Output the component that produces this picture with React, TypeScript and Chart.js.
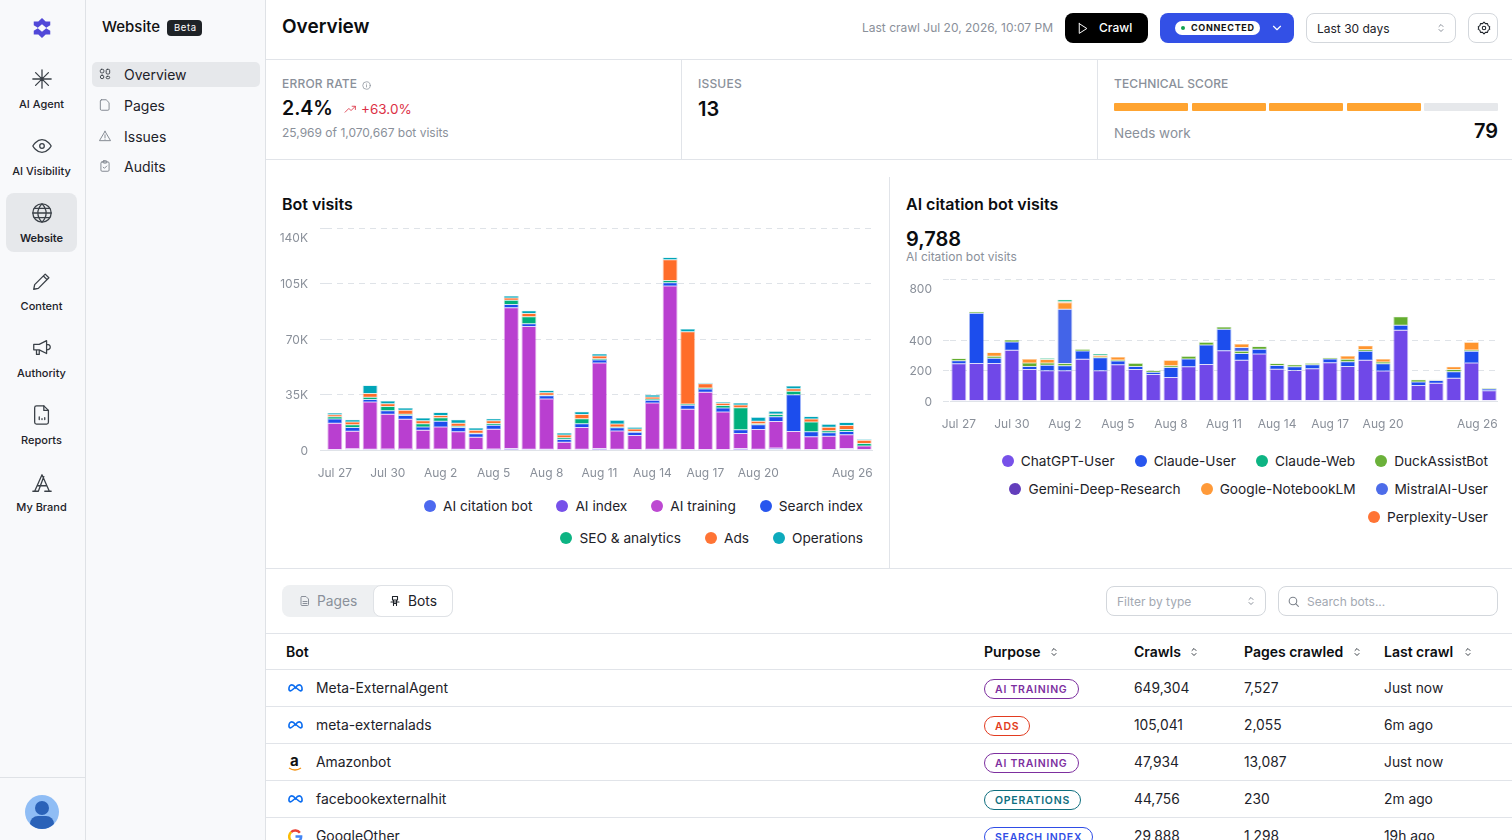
import { useEffect, useRef } from 'react';
import type { CSSProperties, ReactNode } from 'react';
import { Chart, registerables } from 'chart.js';

Chart.register(...registerables);
Chart.defaults.font.family = 'Inter';

const pad = '\u00a0\u00a0\u00a0\u00a0\u00a0\u00a0\u00a0';
const xTickLabels = ['Jul 27', '', '', 'Jul 30', '', '', 'Aug 2', '', '', 'Aug 5', '', '', 'Aug 8', '', '', 'Aug 11', '', '', 'Aug 14', '', '', 'Aug 17', '', '', 'Aug 20', '', '', '', '', '', 'Aug 26' + pad];
const days = xTickLabels.map((_, i) => 'd' + i);

// Bot visits
const visitTicks = [0, 35000, 70000, 105000, 140000];
const aiCitation = [100, 300, 100, 100, 100, 100, 400, 100, 100, 100, 100, 100, 100, 100, 200, 100, 100, 100, 100, 100, 100, 100, 100, 100, 100, 700, 100, 100, 100, 300, 100];
const aiIndex = [200, 500, 300, 600, 600, 300, 200, 300, 200, 600, 800, 300, 300, 200, 300, 800, 300, 200, 300, 300, 200, 200, 200, 800, 300, 500, 300, 200, 200, 700, 200];
const aiTraining = [16600, 11100, 29800, 21800, 18700, 12000, 13900, 11100, 7800, 12400, 88800, 77500, 31700, 4600, 13700, 54000, 11600, 8800, 29200, 103100, 25400, 36100, 23700, 9500, 12600, 16800, 11300, 8000, 8400, 8600, 2300];
const searchIndex = [2700, 2300, 1700, 2300, 2300, 2100, 3600, 2700, 2100, 2500, 2100, 1700, 2100, 1700, 2300, 1900, 2100, 2100, 1700, 1900, 2500, 2100, 2500, 2300, 2900, 2900, 23100, 3200, 2100, 2100, 0];
const seoAnalytics = [1300, 1700, 1300, 2700, 800, 2100, 2300, 800, 400, 1100, 2700, 4400, 400, 1100, 3200, 800, 400, 400, 800, 1500, 800, 600, 1500, 13900, 600, 1500, 2300, 6100, 1300, 1300, 1500];
const ads = [1300, 1700, 2500, 1700, 2500, 1900, 1300, 1900, 1900, 1700, 1300, 2100, 1500, 1700, 2700, 1700, 1900, 1700, 1300, 13000, 45600, 2700, 1500, 1700, 1700, 300, 1500, 1900, 2300, 2500, 2100];
const operations = [1100, 1500, 5000, 1700, 1500, 1700, 1900, 2100, 1300, 1300, 1300, 1700, 1500, 1300, 1700, 1300, 2300, 1100, 1300, 1500, 1700, 600, 800, 1300, 2500, 1700, 1700, 1700, 1900, 1900, 600];

// AI citation bot visits
const citationTicks = [0, 200, 400, 800];
const chatgptUser = [244, 246, 246, 332, 207, 198, 198, 273, 198, 238, 207, 174, 154, 224, 240, 330, 268, 308, 209, 200, 211, 251, 227, 268, 196, 464, 101, 117, 150, 249, 68];
const claudeUser = [20, 330, 35, 55, 20, 37, 33, 55, 86, 24, 20, 15, 66, 51, 128, 141, 44, 31, 24, 24, 26, 24, 31, 59, 48, 33, 24, 18, 42, 77, 11];
const duckAssist = [15, 9, 13, 13, 22, 15, 15, 11, 4, 7, 20, 11, 11, 18, 18, 15, 15, 18, 13, 13, 11, 9, 15, 11, 11, 55, 15, 4, 15, 9, 4];
const mistralUser = [0, 0, 0, 0, 0, 0, 356, 0, 0, 0, 0, 0, 0, 0, 0, 0, 24, 0, 0, 0, 0, 0, 0, 0, 0, 0, 0, 0, 0, 0, 0];
const notebookLm = [0, 0, 24, 0, 26, 22, 42, 0, 11, 20, 0, 0, 37, 0, 0, 0, 22, 0, 0, 0, 0, 0, 22, 24, 20, 0, 0, 0, 18, 51, 0];
const perplexityUser = [0, 0, 0, 0, 0, 0, 7, 0, 0, 0, 0, 0, 0, 0, 0, 0, 0, 0, 0, 0, 0, 0, 0, 0, 0, 0, 0, 0, 0, 0, 0];
const claudeWeb = [0, 0, 0, 0, 0, 8, 13, 0, 9, 0, 0, 0, 0, 0, 0, 0, 0, 0, 0, 0, 0, 0, 0, 0, 0, 0, 0, 0, 0, 0, 0];

const visitSeries = [
  { label: 'AI citation bot', data: aiCitation, color: '#4361ee' },
  { label: 'AI index', data: aiIndex, color: '#7048e8' },
  { label: 'AI training', data: aiTraining, color: '#b93fd0' },
  { label: 'Search index', data: searchIndex, color: '#1c4ded' },
  { label: 'SEO & analytics', data: seoAnalytics, color: '#00b07c' },
  { label: 'Ads', data: ads, color: '#ff6d2a' },
  { label: 'Operations', data: operations, color: '#00a5b8' },
];
const citationSeries = [
  { label: 'ChatGPT-User', data: chatgptUser, color: '#7048e8' },
  { label: 'Claude-User', data: claudeUser, color: '#1c4ded' },
  { label: 'DuckAssistBot', data: duckAssist, color: '#63ad2f' },
  { label: 'MistralAI-User', data: mistralUser, color: '#4364e8' },
  { label: 'Google-NotebookLM', data: notebookLm, color: '#ff952e' },
  { label: 'Perplexity-User', data: perplexityUser, color: '#ff6d2a' },
  { label: 'Claude-Web', data: claudeWeb, color: '#00b07c' },
];

const visitLegend = [
  [['AI citation bot', '#4361ee'], ['AI index', '#7048e8'], ['AI training', '#b93fd0'], ['Search index', '#1c4ded']],
  [['SEO & analytics', '#00b07c'], ['Ads', '#ff6d2a'], ['Operations', '#00a5b8']],
];
const citationLegend = [
  [['ChatGPT-User', '#7048e8'], ['Claude-User', '#1c4ded'], ['Claude-Web', '#00b07c'], ['DuckAssistBot', '#63ad2f']],
  [['Gemini-Deep-Research', '#5b34b8'], ['Google-NotebookLM', '#ff952e'], ['MistralAI-User', '#4364e8']],
  [['Perplexity-User', '#ff6d2a']],
];

const bots = ['Meta-ExternalAgent', 'meta-externalads', 'Amazonbot', 'facebookexternalhit', 'GoogleOther'];
const botLogos = ['meta', 'meta', 'amazon', 'meta', 'google'];
const purposes = ['AI TRAINING', 'ADS', 'AI TRAINING', 'OPERATIONS', 'SEARCH INDEX'];
const crawls = ['649,304', '105,041', '47,934', '44,756', '29,888'];
const pagesCrawled = ['7,527', '2,055', '13,087', '230', '1,298'];
const lastCrawl = ['Just now', '6m ago', 'Just now', '2m ago', '19h ago'];
const purposeColors: Record<string, string> = { 'AI TRAINING': '#7d2f9f', ADS: '#e23b20', OPERATIONS: '#0f6f7f', 'SEARCH INDEX': '#2f4de6' };

const GRID = '#dfe3e8';
const MUTED = '#8a909a';
const LINE = '#e1e4e9';

function hexA(hex: string, a: number) {
  const n = parseInt(hex.slice(1), 16);
  return `rgba(${n >> 16},${(n >> 8) & 255},${n & 255},${a})`;
}

interface BarChartProps {
  series: { label: string; data: number[]; color: string }[];
  yTicks: number[];
  topLabel: string;
  format: (v: number) => string;
  box: { left: number; top: number; width: number; height: number };
  plot: { left: number; top: number; bottom: number };
  tickLen: number;
  labelGap: number;
}

function BarChart({ series, yTicks, topLabel, format, box, plot, tickLen, labelGap }: BarChartProps) {
  const canvasRef = useRef<HTMLCanvasElement>(null);

  useEffect(() => {
    if (!canvasRef.current) return;
    const max = yTicks[yTicks.length - 1];
    const chart = new Chart(canvasRef.current, {
      type: 'bar',
      data: {
        labels: days,
        datasets: series.map((s) => ({
          label: s.label,
          data: s.data,
          backgroundColor: s.color,
          borderColor: hexA(s.color, 0.4),
          borderWidth: { left: 1, right: 1, top: 0.5, bottom: 0.5 },
          borderSkipped: false,
          inflateAmount: 0,
          categoryPercentage: 1,
          barPercentage: 0.85,
        })),
      },
      options: {
        responsive: false,
        animation: false,
        layout: { padding: { top: plot.top, right: 0, bottom: 0, left: 0 } },
        plugins: { legend: { display: false }, tooltip: { enabled: false } },
        scales: {
          x: {
            stacked: true,
            grid: { display: false },
            border: { display: false },
            afterFit: (axis) => {
              axis.height = box.height - plot.bottom;
              axis.paddingLeft = 0;
              axis.paddingRight = 0;
            },
            ticks: {
              autoSkip: false,
              minRotation: 0,
              maxRotation: 0,
              padding: 8,
              color: MUTED,
              font: { size: 12 },
              callback: (_, i) => xTickLabels[i],
            },
          },
          y: {
            stacked: true,
            min: 0,
            max,
            afterBuildTicks: (axis) => {
              axis.ticks = yTicks.map((value) => ({ value }));
            },
            afterFit: (axis) => {
              axis.width = plot.left;
              axis.paddingTop = 0;
              axis.paddingBottom = 0;
            },
            border: {
              display: false,
              dash: (ctx) => (ctx.tick && ctx.tick.value === 0 ? [] : [6, 5]),
            },
            grid: {
              color: GRID,
              tickColor: GRID,
              tickLength: tickLen,
              tickBorderDash: [6, 5],
            },
            ticks: {
              autoSkip: false,
              padding: labelGap,
              labelOffset: 1,
              color: MUTED,
              font: { size: 12, lineHeight: 1.6 },
              // the top label sits under its line, so it gets an empty line above
              callback: (v) => (v === max ? ['', topLabel] : format(Number(v))),
            },
          },
        },
      },
    });
    return () => chart.destroy();
  }, [series, yTicks, topLabel, format, box, plot, tickLen, labelGap]);

  return <canvas ref={canvasRef} width={box.width} height={box.height} style={{ position: 'absolute', left: box.left, top: box.top, width: box.width, height: box.height }} />;
}

const fmtK = (v: number) => (v === 0 ? '0' : `${v / 1000}K`);
const fmtPlain = (v: number) => String(v);
const visitBox = { left: 272, top: 216, width: 601, height: 270 };
const visitPlot = { left: 54, top: 12, bottom: 234 };
const citationBox = { left: 896, top: 268, width: 602, height: 172 };
const citationPlot = { left: 54, top: 11, bottom: 133 };

function Txt({ x, y, right, size = 14, weight = 400, color = '#1d2229', spacing, children }: { x?: number; y: number; right?: number; size?: number; weight?: number; color?: string; spacing?: number; children: ReactNode }) {
  const style: CSSProperties = { position: 'absolute', top: y, transform: 'translateY(-50%)', fontSize: size, fontWeight: weight, color, whiteSpace: 'nowrap', letterSpacing: spacing, lineHeight: 1.2 };
  if (x !== undefined) style.left = x;
  if (right !== undefined) style.right = 1512 - right;
  return <div style={style}>{children}</div>;
}

function Box({ x, y, w, h, bg, border, radius }: { x: number; y: number; w: number; h: number; bg?: string; border?: string; radius?: number }) {
  return <div style={{ position: 'absolute', left: x, top: y, width: w, height: h, background: bg, border, borderRadius: radius, boxSizing: 'border-box' }} />;
}

function Icon({ x, y, size = 24, color = '#3a4047', sw = 1.5, children }: { x: number; y: number; size?: number; color?: string; sw?: number; children: ReactNode }) {
  return (
    <svg viewBox="0 0 24 24" width={size} height={size} fill="none" stroke={color} strokeWidth={sw} strokeLinecap="round" strokeLinejoin="round" style={{ position: 'absolute', left: x - size / 2, top: y - size / 2 }}>
      {children}
    </svg>
  );
}

function Legend({ rows, right, ys, gap }: { rows: string[][][]; right: number; ys: number[]; gap: number }) {
  return (
    <>
      {rows.map((row, r) => (
        <div key={r} style={{ position: 'absolute', right: 1512 - right, top: ys[r], transform: 'translateY(-50%)', display: 'flex', gap, whiteSpace: 'nowrap' }}>
          {row.map(([name, color]) => (
            <div key={name} style={{ display: 'flex', alignItems: 'center', gap: 7, fontSize: 13.7, color: '#1d2229' }}>
              <span style={{ width: 12, height: 12, borderRadius: 6, background: color, display: 'inline-block', opacity: 0.95 }} />
              {name}
            </div>
          ))}
        </div>
      ))}
    </>
  );
}

function Chevrons({ x, y, color = '#6b7280' }: { x: number; y: number; color?: string }) {
  return (
    <Icon x={x} y={y} size={12} color={color} sw={2}>
      <path d="M8 9l4-4 4 4M8 15l4 4 4-4" />
    </Icon>
  );
}

function BotLogo({ kind, y }: { kind: string; y: number }) {
  if (kind === 'amazon')
    return (
      <>
        <Txt x={290} y={y - 1} size={15} weight={700} color="#111">a</Txt>
        <svg width="14" height="5" style={{ position: 'absolute', left: 288, top: y + 5 }}>
          <path d="M1 1q6 4 12 0" fill="none" stroke="#f29111" strokeWidth="1.3" />
        </svg>
      </>
    );
  if (kind === 'google')
    return (
      <svg viewBox="0 0 24 24" width="15" height="15" fill="none" strokeWidth="4" style={{ position: 'absolute', left: 288, top: y - 7 }}>
        <path d="M19 6a9.5 9.5 0 0 0-14-1" stroke="#ea4335" />
        <path d="M5 5a9.5 9.5 0 0 0 0 14" stroke="#fbbc05" />
        <path d="M5 19a9.5 9.5 0 0 0 13 0" stroke="#34a853" />
        <path d="M18 19a9 9 0 0 0 3-7h-9" stroke="#4285f4" />
      </svg>
    );
  return (
    <svg viewBox="0 0 24 13" width="15" height="10" fill="none" stroke="#0a6cf0" strokeWidth="2.6" style={{ position: 'absolute', left: 288, top: y - 5 }}>
      <path d="M12 6C10 3 8 1.500 6 1.500 3 1.500 1.500 5 1.500 8c0 2 1 3 2.500 3C7 11 9 6 12 6s5 5 8 5c1.500 0 2.500-1 2.500-3 0-3-1.500-6.500-4.500-6.500-2 0-4 1.500-6 4.500z" />
    </svg>
  );
}

const railItems = ['AI Agent', 'AI Visibility', 'Website', 'Content', 'Authority', 'Reports', 'My Brand'];
const railY = [79, 146, 213, 281, 348, 415, 483];
const railGlyphs = [
  <path d="M12 2v20M2 12h20M5 5l14 14M19 5L5 19" />,
  <><path d="M2 12s4-7 10-7 10 7 10 7-4 7-10 7-10-7-10-7z" /><circle cx="12" cy="12" r="2.500" /></>,
  <><circle cx="12" cy="12" r="10" /><path d="M2 12h20M3.500 7h17M3.500 17h17M12 2c-6 6-6 14 0 20M12 2c6 6 6 14 0 20" /></>,
  <path d="M15.500 4.500l4 4L8 20l-5 1 1-5L15.500 4.500zM13.500 6.500l4 4" />,
  <path d="M3 8h6l8-4v14l-8-4H3V8zM6 14v5h3v-5M17 8c2 0 4 1 4 3s-2 3-4 3" />,
  <><path d="M6 2h8l5 5v13a2 2 0 0 1-2 2H6a2 2 0 0 1-2-2V4a2 2 0 0 1 2-2z" /><path d="M14 2v5h5M9 17v-3M12 17v-1M15 17v-2" /></>,
  <path d="M2 21h6M15 21h7M4 21L12 3l8 18M8 21l6-16M7 15h10" />,
];

const navItems = ['Overview', 'Pages', 'Issues', 'Audits'];
const navY = [75, 106, 137, 167];
const navGlyphs = [
  <><rect x="4" y="4" width="6" height="6" rx="2" /><rect x="14" y="4" width="6" height="8" rx="2" /><rect x="4" y="14" width="6" height="6" rx="3" /><rect x="14" y="16" width="6" height="4" rx="2" /></>,
  <path d="M6 3h8l5 5v11a2 2 0 0 1-2 2H6a2 2 0 0 1-2-2V5a2 2 0 0 1 2-2z" />,
  <path d="M12 4L2.500 20h19L12 4zM12 10v5M12 17.500v.100" />,
  <><rect x="5" y="5" width="14" height="16" rx="2" /><rect x="9" y="3" width="6" height="4" rx="1" /><path d="M9 14l2 2 4-4" /></>,
];

const scoreSegments = [1114, 1192, 1269, 1347, 1424];

export default function App() {
  return (
    <div style={{ position: 'relative', width: 1512, height: 840, overflow: 'hidden', background: '#fff', fontFamily: 'Inter, sans-serif' }}>
      <style>{'html,body{margin:0;padding:0;overflow:hidden}'}</style>

      {/* sidebars */}
      <Box x={0} y={0} w={265} h={840} bg="#f8f9fb" />
      <Box x={85} y={0} w={1} h={840} bg="#dfe2e6" />
      <Box x={265} y={0} w={1} h={840} bg="#dfe2e6" />
      <Box x={0} y={777} w={85} h={1} bg="#dfe2e6" />
      <svg viewBox="0 0 24 24" width="22" height="24" style={{ position: 'absolute', left: 31, top: 16 }}>
        <path d="M12 1l4 4h5v4l-5 3 5 3v4h-5l-4 4-4-4H3v-4l5-3-5-3V5h5l4-4zM12 8l-5 4 5 4 5-4-5-4z" fill="#5148d8" fillRule="evenodd" />
      </svg>
      <Box x={6} y={193} w={71} h={59} bg="#e6e8eb" radius={8} />
      {railItems.map((name, i) => (
        <div key={name}>
          <Icon x={41.5} y={railY[i]} size={22} sw={1.4}>{railGlyphs[i]}</Icon>
          <div style={{ position: 'absolute', left: 0, width: 83, textAlign: 'center', top: railY[i] + 25 - (i === 6 ? 1 : 0), transform: 'translateY(-50%)', fontSize: 11, fontWeight: i === 2 ? 600 : 500, color: '#1d2229' }}>{name}</div>
        </div>
      ))}
      <div style={{ position: 'absolute', left: 25, top: 795, width: 34, height: 34, borderRadius: 17, background: '#8fbdf5', overflow: 'hidden' }}>
        <div style={{ position: 'absolute', left: 10, top: 6, width: 14, height: 14, borderRadius: 7, background: '#2a62b8' }} />
        <div style={{ position: 'absolute', left: 5, top: 21, width: 24, height: 16, borderRadius: 12, background: '#2a62b8' }} />
      </div>

      <Txt x={102} y={27} size={15} weight={500} color="#111">Website</Txt>
      <Box x={167} y={20} w={35} h={16} bg="#1f2327" radius={4} />
      <Txt x={174} y={28} size={9.500} color="#fff" spacing={0.6}>Beta</Txt>
      <Box x={92} y={62} w={168} h={25} bg="#e6e8eb" radius={5} />
      {navItems.map((name, i) => (
        <div key={name}>
          <Icon x={105} y={navY[i] - 1} size={14} color={i === 0 ? '#3a4047' : '#7d838c'} sw={1.6}>{navGlyphs[i]}</Icon>
          <Txt x={124} y={navY[i]} size={14} color="#1d2229">{name}</Txt>
        </div>
      ))}

      {/* top bar */}
      <Txt x={282} y={27} size={19} weight={600} color="#0b0d10">Overview</Txt>
      <Txt right={1053} y={28} size={12} color={MUTED}>Last crawl Jul 20, 2026, 10:07 PM</Txt>
      <Box x={1065} y={13} w={83} h={30} bg="#000" radius={8} />
      <Icon x={1082} y={28} size={13} color="#fff" sw={1.8}><path d="M6 3l14 9-14 9V3z" /></Icon>
      <Txt x={1099} y={28} size={12} weight={500} color="#fff">Crawl</Txt>
      <Box x={1160} y={13} w={134} h={30} bg="#3350e6" radius={8} />
      <Box x={1175} y={21} w={85} h={14} bg="#fff" radius={7} />
      <Box x={1181} y={26} w={4} h={4} bg="#12a150" radius={2} />
      <Txt x={1191} y={28} size={9} weight={700} color="#111" spacing={0.7}>CONNECTED</Txt>
      <Icon x={1277} y={28} size={14} color="#fff" sw={2}><path d="M6 9l6 6 6-6" /></Icon>
      <Box x={1306} y={13} w={150} h={30} bg="#fff" border="1px solid #d3d7dc" radius={8} />
      <Txt x={1317} y={29} size={12} color="#1d2229">Last 30 days</Txt>
      <Chevrons x={1441} y={28} color="#8a909a" />
      <Box x={1468} y={13} w={30} h={30} bg="#fff" border="1px solid #d3d7dc" radius={8} />
      <Icon x={1484} y={28} size={14} color="#1d2229" sw={1.8}>
        <circle cx="12" cy="12" r="3" />
        <path d="M12 2l2.500 2.500h3.500l1 3.500 3 2-1 2 1 2-3 2-1 3.500h-3.500L12 22l-2.500-2.500H6L5 16l-3-2 1-2-1-2 3-2 1-3.500h3.500L12 2z" />
      </Icon>
      <Box x={266} y={59} w={1246} h={1} bg={LINE} />

      {/* kpis */}
      <Box x={266} y={159} w={1246} h={1} bg={LINE} />
      <Box x={681} y={60} w={1} h={99} bg={LINE} />
      <Box x={1097} y={60} w={1} h={99} bg={LINE} />
      <Txt x={282} y={84} size={12} weight={500} color={MUTED} spacing={0.2}>ERROR RATE</Txt>
      <Icon x={366} y={85} size={9} color={MUTED} sw={2}><circle cx="12" cy="12" r="10" /><path d="M12 11v5M12 8v.100" /></Icon>
      <Txt x={282} y={109} size={19.500} weight={600} color="#0b0d10">2.4%</Txt>
      <Icon x={350} y={109} size={13} color="#dc3545" sw={1.600}><path d="M2 17l7-7 4 4 8-8M15 6h6v6" /></Icon>
      <Txt x={361} y={109} size={13.500} color="#dc2f45">+63.0%</Txt>
      <Txt x={282} y={132.500} size={12} color={MUTED}>25,969 of 1,070,667 bot visits</Txt>
      <Txt x={698} y={84} size={12} weight={500} color={MUTED} spacing={0.2}>ISSUES</Txt>
      <Txt x={698} y={109} size={20} weight={600} color="#0b0d10">13</Txt>
      <Txt x={1114} y={84} size={12} weight={500} color={MUTED} spacing={0.1}>TECHNICAL SCORE</Txt>
      {scoreSegments.map((x, i) => (
        <Box key={x} x={x} y={103} w={74} h={8} bg={i < 4 ? '#ffa431' : '#e6e8eb'} radius={1} />
      ))}
      <Txt x={1114} y={133} size={13.500} color={MUTED}>Needs work</Txt>
      <Txt right={1498} y={131} size={20} weight={600} color="#0b0d10">79</Txt>

      {/* charts */}
      <Box x={889} y={177} w={1} h={391} bg={LINE} />
      <Txt x={282} y={205} size={16} weight={600} color="#0b0d10">Bot visits</Txt>
      <BarChart series={visitSeries} yTicks={visitTicks} topLabel="140K" format={fmtK} box={visitBox} plot={visitPlot} tickLen={6} labelGap={12} />
      <Legend rows={visitLegend} right={863} ys={[506, 538]} gap={24} />

      <Txt x={906} y={205} size={16} weight={600} color="#0b0d10">AI citation bot visits</Txt>
      <Txt x={906} y={239} size={20} weight={600} color="#0b0d10">9,788</Txt>
      <Txt x={906} y={257} size={12} color={MUTED}>AI citation bot visits</Txt>
      <BarChart series={citationSeries} yTicks={citationTicks} topLabel="800" format={fmtPlain} box={citationBox} plot={citationPlot} tickLen={7} labelGap={11} />
      <Legend rows={citationLegend} right={1488} ys={[461, 489, 517]} gap={20} />

      <Box x={266} y={568} w={1246} h={1} bg={LINE} />

      {/* table */}
      <Box x={282} y={585} w={171} h={32} bg="#eef0f2" radius={8} />
      <Box x={373} y={585} w={80} h={32} bg="#fff" border="1px solid #dfe2e6" radius={8} />
      <Icon x={305} y={601} size={12} color={MUTED} sw={2}><path d="M6 3h8l5 5v11a2 2 0 0 1-2 2H6a2 2 0 0 1-2-2V5a2 2 0 0 1 2-2zM8 13h8M8 17h8" /></Icon>
      <Txt x={317} y={601} size={13.800} color={MUTED}>Pages</Txt>
      <Icon x={395} y={601} size={12} color="#1d2229" sw={2.200}><path d="M7 3h10v7H7zM4 14h16M9 10v11M15 10v11M9 17h6" /></Icon>
      <Txt x={408} y={601} size={13.800} color="#1d2229">Bots</Txt>
      <Box x={1106} y={586} w={160} h={30} bg="#fff" border="1px solid #d3d7dc" radius={8} />
      <Txt x={1117} y={602} size={12} color="#a3a9b2">Filter by type</Txt>
      <Chevrons x={1251} y={601} color="#8a909a" />
      <Box x={1278} y={586} w={220} h={30} bg="#fff" border="1px solid #d3d7dc" radius={8} />
      <Icon x={1293} y={601} size={13} color="#7d838c" sw={2}><circle cx="11" cy="11" r="7" /><path d="M16 16l5 5" /></Icon>
      <Txt x={1307} y={602} size={12} color="#a3a9b2">Search bots...</Txt>

      <Box x={266} y={633} w={1246} h={1} bg={LINE} />
      <Txt x={286} y={652} size={14} weight={600} color="#0b0d10">Bot</Txt>
      <Txt x={984} y={652} size={14} weight={600} color="#0b0d10">Purpose</Txt>
      <Chevrons x={1054} y={652} color="#3a4047" />
      <Txt x={1134} y={652} size={14} weight={600} color="#0b0d10">Crawls</Txt>
      <Chevrons x={1194} y={652} color="#3a4047" />
      <Txt x={1244} y={652} size={14} weight={600} color="#0b0d10">Pages crawled</Txt>
      <Chevrons x={1357} y={652} color="#3a4047" />
      <Txt x={1384} y={652} size={14} weight={600} color="#0b0d10">Last crawl</Txt>
      <Chevrons x={1468} y={652} color="#3a4047" />
      <Box x={266} y={669} w={1246} h={1} bg={LINE} />
      {bots.map((name, i) => {
        const y = 688 + i * 37;
        const tone = purposeColors[purposes[i]];
        return (
          <div key={name}>
            <BotLogo kind={botLogos[i]} y={y} />
            <Txt x={316} y={y} size={13.900} color="#1d2229">{name}</Txt>
            <div style={{ position: 'absolute', left: 984, top: y + 1, transform: 'translateY(-50%)', height: 20, boxSizing: 'border-box', border: `1px solid ${tone}`, borderRadius: 10, padding: '0 10px', fontSize: 10.500, fontWeight: 600, letterSpacing: 0.75, lineHeight: '19px', color: tone, whiteSpace: 'nowrap' }}>{purposes[i]}</div>
            <Txt x={1134} y={y} size={13.800} color="#1d2229">{crawls[i]}</Txt>
            <Txt x={1244} y={y} size={13.800} color="#1d2229">{pagesCrawled[i]}</Txt>
            <Txt x={1384} y={y} size={13.800} color="#1d2229">{lastCrawl[i]}</Txt>
            {i < 4 && <Box x={266} y={706 + i * 37} w={1246} h={1} bg={LINE} />}
          </div>
        );
      })}
    </div>
  );
}
